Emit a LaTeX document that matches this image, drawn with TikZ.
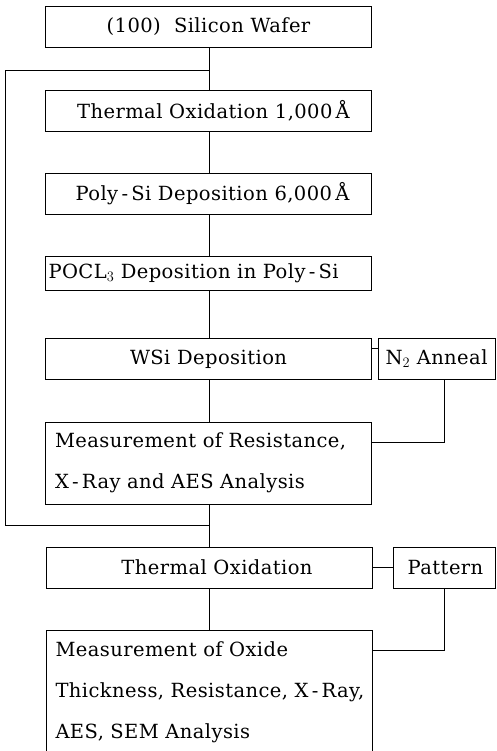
\documentclass[tikz,border=0pt]{standalone}
\usepackage{fontspec}
\setmainfont[LetterSpace=2.2]{DejaVu Serif}
\begin{document}
\begin{tikzpicture}[x=1pt,y=-1pt,
  txt/.style={font=\fontsize{19.5}{41}\selectfont},
  box/.style={draw, line width=0.9pt, minimum width=326pt, minimum height=41pt, inner sep=0pt, txt},
  side/.style={draw, line width=0.9pt, minimum height=41pt, inner sep=0pt, txt},
  conn/.style={line width=0.9pt}]
\useasboundingbox (0,0) rectangle (496,751);
\node[box] (wafer) at (208.5,27) {(100)\ \ Silicon Wafer};
\node[box] (ox1) at (208.5,110.5) {\hspace{10pt}Thermal Oxidation 1,000\,Å};
\node[box] (poly) at (208.5,193.5) {\hspace{8pt}Poly\,-\,Si Deposition 6,000\,Å};
\node[box, minimum height=34pt, align=left, text width=320pt, inner xsep=3pt] (pocl) at (208.5,273) {\mbox{POCL$_3$ Deposition in Poly\,-\,Si}};
\node[box] (wsi) at (208.5,359) {WSi Deposition\hspace{12pt}};
\node[side, minimum width=117pt] (n2) at (436.5,359) {N$_2$ Anneal};
\node[box, minimum height=82pt, align=left, text width=307pt, inner xsep=9.5pt] (meas1) at (208.5,463) {\mbox{Measurement of Resistance,}\\\mbox{X\,-\,Ray and AES Analysis}};
\node[box] (ox2) at (209,567.5) {\hspace{16pt}Thermal Oxidation};
\node[side, minimum width=102pt] (pat) at (444,567.5) {\hspace{3pt}Pattern};
\node[box, minimum height=124pt, align=left, text width=307pt, inner xsep=9.5pt] (meas2) at (209,692) {\mbox{Measurement of Oxide}\\\mbox{Thickness, Resistance, X\,-\,Ray,}\\\mbox{AES, SEM Analysis}};
\coordinate (j1) at (209,70);
\coordinate (lt) at (5,70);
\coordinate (lb) at (5,525);
\coordinate (j2) at (209,525);
\draw[conn] (wafer.south -| j1) -- (ox1.north -| j1);
\draw[conn] (ox1.south -| j1) -- (poly.north -| j1);
\draw[conn] (poly.south -| j1) -- (pocl.north -| j1);
\draw[conn] (pocl.south -| j1) -- (wsi.north -| j1);
\draw[conn] (wsi.south -| j1) -- (meas1.north -| j1);
\draw[conn] (meas1.south -| j1) -- (ox2.north -| j1);
\draw[conn] (ox2.south -| j1) -- (meas2.north -| j1);
\draw[conn] (j1) -- (lt) -- (lb) -- (j2);
\draw[conn] ([yshift=11pt]wsi.east) -- ([yshift=11pt]n2.west);
\draw[conn] ([xshift=7.5pt]n2.south) |- ([yshift=21pt]meas1.east);
\draw[conn] (ox2.east) -- (pat.west);
\draw[conn] (pat.south) |- ([yshift=-21pt]meas2.north east);
\end{tikzpicture}
\end{document}
